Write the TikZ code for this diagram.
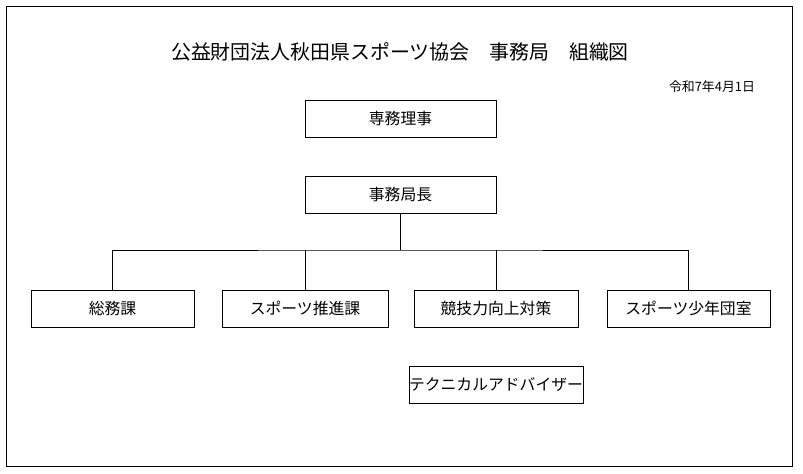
\documentclass[tikz,border=0pt]{standalone}
\usepackage{fontspec}
\setmainfont{Noto Sans CJK JP}
\usetikzlibrary{positioning}
\tikzset{box/.style={draw,minimum width=164*0.03cm,minimum height=37*0.03cm,inner sep=0pt,font=\fontsize{13.5}{15}\selectfont}}
\begin{document}
\begin{tikzpicture}[x=0.03cm,y=-0.03cm]
\useasboundingbox (0,0) rectangle (803,474);
\draw (6,6) rectangle (792,466);
\node[font=\fontsize{17}{19}\selectfont] (title) at (400,52) {公益財団法人秋田県スポーツ協会\quad 事務局\quad 組織図};
\node[font=\fontsize{11}{13}\selectfont] (date) at (712,87) {令和7年4月1日};

\path
(400.5,118.5) node[box,minimum width=191*0.03cm] (senmu) {専務理事}
(400.5,194.5) node[box,minimum width=191*0.03cm] (kyokucho) {事務局長}
(112.5,308.5) node[box,minimum width=163*0.03cm] (somu) {総務課}
(305,308.5)   node[box,minimum width=166*0.03cm] (suishin) {スポーツ推進課}
(496,308.5)   node[box] (kyogi) {競技力向上対策}
(688.5,308.5) node[box,minimum width=163*0.03cm] (shonen) {スポーツ少年団室}
(496,384.5)   node[box] (tech) {テクニカルアドバイザー};

\coordinate (bus) at (400.5,250);
\draw (kyokucho.south)--(bus);
\draw (somu.north)|-(bus)-|(shonen.north);
\draw (suishin.north)--(suishin.north|-bus);
\draw (kyogi.north)--(kyogi.north|-bus);
\end{tikzpicture}
\end{document}
